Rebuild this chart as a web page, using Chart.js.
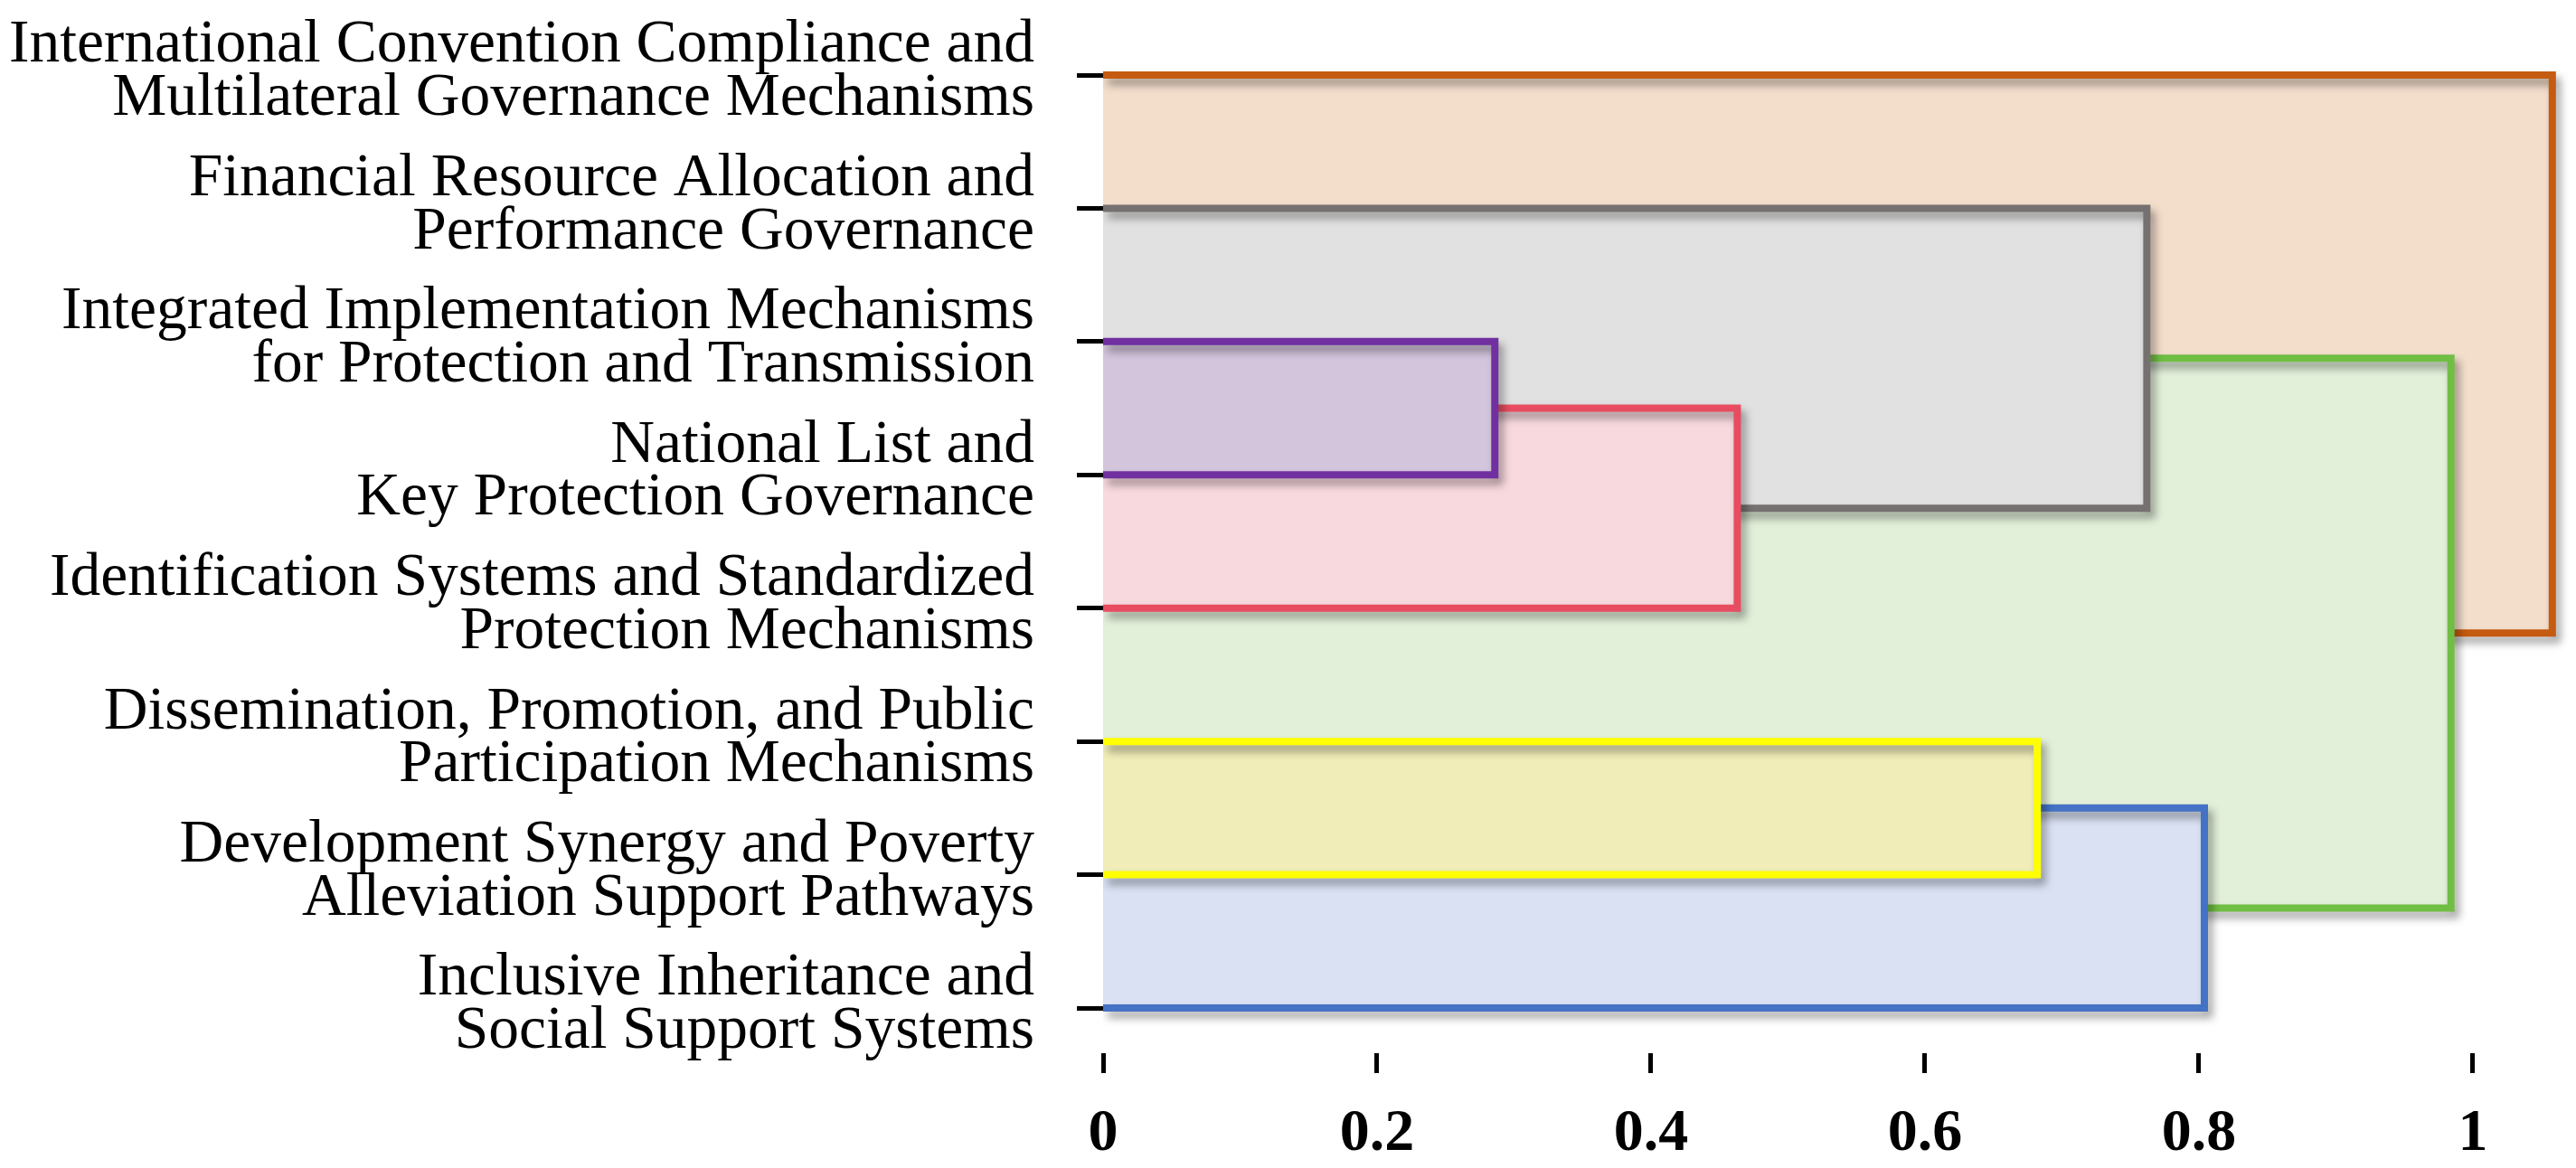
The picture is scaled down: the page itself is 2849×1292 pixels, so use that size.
<!DOCTYPE html>
<html>
<head>
<meta charset="utf-8">
<script src="https://cdn.jsdelivr.net/npm/chart.js@4/dist/chart.umd.min.js"></script>
<style>
  html, body { margin: 0; padding: 0; background: #fff; }
  canvas { display: block; }
</style>
</head>
<body>
<canvas id="dendro" width="2849" height="1292"></canvas>
<script>
(function () {
  "use strict";

  // leaves, top to bottom (node ids 0-7)
  const leafLabels = [
    ["International Convention Compliance and", "Multilateral Governance Mechanisms"],
    ["Financial Resource Allocation and", "Performance Governance"],
    ["Integrated Implementation Mechanisms", "for Protection and Transmission"],
    ["National List and", "Key Protection Governance"],
    ["Identification Systems and Standardized", "Protection Mechanisms"],
    ["Dissemination, Promotion, and Public", "Participation Mechanisms"],
    ["Development Synergy and Poverty", "Alleviation Support Pathways"],
    ["Inclusive Inheritance and", "Social Support Systems"],
  ];

  // merge steps, each one creates node 8, 9, 10 ...
  const mergeLeft = [2, 8, 5, 1, 10, 11, 0];
  const mergeRight = [3, 4, 6, 9, 7, 12, 13];
  const mergeHeight = [0.286, 0.463, 0.682, 0.762, 0.804, 0.984, 1.058];

  const xTickValues = [0, 0.2, 0.4, 0.6, 0.8, 1];

  // styles per merge step
  const lineColors = ["#7030A0", "#E84C61", "#FFFF00", "#767171", "#4472C4", "#70BE44", "#C55A11"];
  const fillColors = ["#D3C5DC", "#F8D9DE", "#F0EDB8", "#E1E1E1", "#D9E1F3", "#E2EFD9", "#F3DECC"];

  // node vertical positions: leaves at their index, merges at the mean of their children
  const nodeY = leafLabels.map((_, i) => i);
  mergeLeft.forEach((l, i) => nodeY.push((nodeY[l] + nodeY[mergeRight[i]]) / 2));

  const datasets = mergeHeight.map((h, i) => {
    const top = nodeY[mergeLeft[i]];
    const bottom = nodeY[mergeRight[i]];
    return {
      data: [
        { x: 0, y: top },
        { x: h, y: top },
        { x: h, y: bottom },
        { x: 0, y: bottom },
      ],
      showLine: true,
      fill: "shape",
      tension: 0,
      borderColor: lineColors[i],
      backgroundColor: fillColors[i],
      borderWidth: 8,
      borderJoinStyle: "miter",
      borderCapStyle: "butt",
      pointRadius: 0,
      pointHoverRadius: 0,
    };
  });

  const boxShadow = {
    id: "boxShadow",
    beforeDatasetDraw(chart) {
      const ctx = chart.ctx;
      ctx.save();
      ctx.shadowColor = "rgba(0, 0, 0, 0.38)";
      ctx.shadowBlur = 10;
      ctx.shadowOffsetX = 5;
      ctx.shadowOffsetY = 7;
    },
    afterDatasetDraw(chart) {
      chart.ctx.restore();
    },
  };

  const serif = "'Times New Roman', 'Liberation Serif', serif";

  const noPad = (scale) => {
    scale.paddingTop = 0;
    scale.paddingBottom = 0;
    scale.paddingLeft = 0;
    scale.paddingRight = 0;
  };

  new Chart(document.getElementById("dendro"), {
    type: "scatter",
    data: { datasets },
    plugins: [boxShadow],
    options: {
      responsive: false,
      devicePixelRatio: 1,
      animation: false,
      events: [],
      layout: { padding: 0 },
      plugins: {
        legend: { display: false },
        tooltip: { enabled: false },
      },
      scales: {
        x: {
          type: "linear",
          min: 0,
          max: 1.0753,
          border: { display: false },
          grid: { drawOnChartArea: false, tickLength: 22, tickWidth: 5, tickColor: "#000" },
          afterBuildTicks: (scale) => { scale.ticks = xTickValues.map((v) => ({ value: v })); },
          afterFit: (scale) => { scale.height = 127; noPad(scale); },
          ticks: {
            color: "#000",
            padding: 28,
            maxRotation: 0,
            autoSkip: false,
            font: { family: serif, size: 66, weight: "bold" },
            callback: (v) => String(v),
          },
        },
        y: {
          type: "linear",
          reverse: true,
          min: -0.563,
          max: 7.339,
          border: { display: false },
          grid: { drawOnChartArea: false, tickLength: 29, tickWidth: 5, tickColor: "#000" },
          afterBuildTicks: (scale) => { scale.ticks = leafLabels.map((_, i) => ({ value: i })); },
          afterFit: (scale) => { scale.width = 1220; noPad(scale); },
          ticks: {
            color: "#000",
            padding: 47,
            autoSkip: false,
            labelOffset: -3,
            font: { family: serif, size: 67.5, lineHeight: 0.87 },
            callback: (v) => leafLabels[v],
          },
        },
      },
    },
  });
})();
</script>
</body>
</html>
